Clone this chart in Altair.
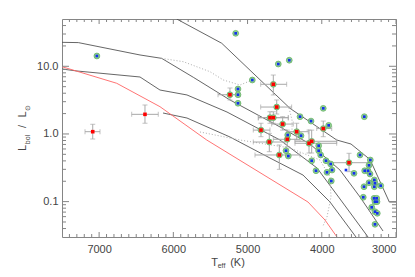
import altair as alt
import pandas as pd

# ---- data ----
# green-ringed blue stars
blue_T = [7030, 5160, 4586, 4438, 4936, 5129, 5129, 5129, 3980, 4293, 4145, 3427, 3907,
          4459, 4280, 4042, 4042, 4015, 4482, 4451, 4136, 3943, 3880, 3862, 4078, 3930,
          3872, 3485, 3346, 3364, 3566, 3422, 3377, 3350, 3431, 3364, 3292, 3283, 3206,
          3292, 3441, 3296, 3260, 3283, 3256, 3327, 3283, 3252, 3283]
blue_L = [14.2, 30.7, 10.8, 12.3, 6.27, 4.62, 3.80, 2.84, 2.39, 1.80, 1.55, 1.80, 1.34,
          0.965, 0.943, 0.671, 0.566, 0.489, 0.566, 0.472, 0.402, 0.402, 0.360, 0.293, 0.286, 0.271,
          0.202, 0.489, 0.412, 0.344, 0.262, 0.286, 0.286, 0.256, 0.166, 0.190, 0.209, 0.187, 0.172,
          0.166, 0.116, 0.112, 0.112, 0.0997, 0.0997, 0.0824, 0.0710, 0.0672, 0.0462]
# lone blue star (no ring)
lone_T = [3674]
lone_L = [0.293]
# green-ringed red stars with error bars
rg_T = [4653, 5237, 4607, 4698, 4653, 4527, 4819, 4338, 3980, 4707, 4465, 4172, 4136, 4572, 3633]
rg_L = [5.42, 3.80, 2.50, 1.74, 1.74, 1.40, 1.14, 1.08, 1.20, 0.760, 0.834, 0.728, 0.779, 0.489, 0.376]
rg_Thot = [4823, 5398, 4823, 4855, 4855, 4675, 4923, 4473, 4068, 4923, 4653, 4361, 4361, 4900, 3912]
rg_Tcool = [4473, 5102, 4406, 4451, 4451, 4384, 4698, 4182, 3866, 4496, 4293, 3799, 3799, 4293, 3360]
rg_Llo = [3.77, 3.18, 1.97, 1.44, 1.44, 1.14, 0.911, 0.814, 0.911, 0.547, 0.648, 0.523, 0.523, 0.300, 0.277]
rg_Lhi = [7.43, 4.78, 3.18, 2.13, 2.13, 1.80, 1.44, 1.44, 1.55, 1.02, 1.14, 1.14, 1.14, 0.687, 0.518]
# plain red stars with error bars
r_T = [7086, 6382]
r_L = [1.08, 1.95]
r_Thot = [7190, 6561]
r_Tcool = [6988, 6203]
r_Llo = [0.842, 1.44]
r_Lhi = [1.39, 2.68]

# isochrones (black)
line1_T = [5955, 5348, 4428, 3799, 3606, 3350, 3090, 3000]
line1_L = [50, 21.9, 2.39, 0.814, 0.710, 0.419, 0.0987, 0.0987]
line2_T = [7500, 7280, 6449, 6157, 5731, 5237, 4563, 4159, 3755, 3485, 3175]
line2_L = [22.6, 22.4, 14.7, 13.1, 6.88, 3.18, 1.27, 0.710, 0.293, 0.117, 0.0368]
line3_T = [7500, 7298, 6449, 6180, 5816, 5277, 4563, 4064, 3714, 3377]
line3_L = [9.12, 8.52, 6.95, 4.46, 3.77, 2.11, 0.814, 0.314, 0.0954, 0.03]
line4_T = [6139, 5816, 5237, 4698, 4253, 3889, 3539]
line4_L = [2.04, 1.72, 0.902, 0.441, 0.247, 0.0987, 0.03]
# red line
red_T = [7500, 6763, 6180, 5550, 4186, 3957, 3795]
red_L = [9.86, 5.61, 2.53, 0.814, 0.0987, 0.0535, 0.03]
# dotted tracks
dot1_T = [6157, 5866, 5506, 5327, 5102, 4936]
dot1_L = [13.1, 11.7, 8.32, 6.27, 5.29, 6.27]
dot2_T = [5641, 5102, 4428, 4024, 3889, 3876, 3930, 3984]
dot2_L = [1.07, 0.814, 0.620, 0.412, 0.231, 0.117, 0.0592, 0.0436]
dot3_T = [4442, 4401, 4401]
dot3_L = [2.42, 1.61, 1.0]

# tick values
xt_major = [3000, 4000, 5000, 6000, 7000]
xt_minor = [t for t in range(3100, 7500, 100) if t % 1000 != 0]
yt_major = [0.1, 1, 10]
yt_minor = [0.04, 0.05, 0.06, 0.07, 0.08, 0.09,
            0.2, 0.3, 0.4, 0.5, 0.6, 0.7, 0.8, 0.9,
            2, 3, 4, 5, 6, 7, 8, 9,
            20, 30, 40]

# ---- chart ----
W, H = 334, 218
FONT = "Liberation Sans"
TXT = "#444444"
FRAME = "#858585"

xs = alt.Scale(domain=[3000, 7500], reverse=True, nice=False, zero=False)
ys = alt.Scale(type="log", domain=[0.03, 50], nice=False)
xaxis = alt.Axis(values=xt_major, format="d", ticks=False, domain=False, grid=False,
                 labelFont=FONT, labelFontSize=11, labelColor=TXT, labelPadding=6, title="")
yaxis = alt.Axis(values=yt_major, format=".1f", ticks=False, domain=False, grid=False,
                 labelFont=FONT, labelFontSize=11, labelColor=TXT, labelPadding=4, title="")


def X(f):
    return alt.X(f, type="quantitative", scale=xs, axis=xaxis)


def Y(f):
    return alt.Y(f, type="quantitative", scale=ys, axis=yaxis)


def ldf(name, T, L):
    return pd.DataFrame({"T": T, "L": L, "line": name, "i": list(range(len(T)))})


black_df = pd.concat([ldf("a", line1_T, line1_L), ldf("b", line2_T, line2_L),
                      ldf("c", line3_T, line3_L), ldf("d", line4_T, line4_L)])
red_df = ldf("r", red_T, red_L)
dot_df = pd.concat([ldf("p", dot1_T, dot1_L), ldf("q", dot2_T, dot2_L), ldf("s", dot3_T, dot3_L)])

blue_df = pd.DataFrame({"T": blue_T, "L": blue_L})
lone_df = pd.DataFrame({"T": lone_T, "L": lone_L})
rg_df = pd.DataFrame({"T": rg_T, "L": rg_L, "Thot": rg_Thot, "Tcool": rg_Tcool,
                      "Llo": rg_Llo, "Lhi": rg_Lhi})
r_df = pd.DataFrame({"T": r_T, "L": r_L, "Thot": r_Thot, "Tcool": r_Tcool,
                     "Llo": r_Llo, "Lhi": r_Lhi})
err_df = pd.concat([rg_df, r_df])
ring_df = pd.concat([blue_df, rg_df[["T", "L"]]])

black = alt.Chart(black_df).mark_line(color="#555555", strokeWidth=0.9, clip=True).encode(
    x=X("T"), y=Y("L"), detail="line:N", order="i:Q")
redl = alt.Chart(red_df).mark_line(color="#ff6464", strokeWidth=0.9, clip=True).encode(
    x=X("T"), y=Y("L"), order="i:Q")
dots = alt.Chart(dot_df).mark_line(color="#acacac", strokeWidth=1, strokeDash=[1, 2], clip=True).encode(
    x=X("T"), y=Y("L"), detail="line:N", order="i:Q")

ebx = alt.Chart(err_df).mark_errorbar(color="#a8a8a8", thickness=1, ticks={"size": 5}).encode(
    x=X("Thot"), x2="Tcool:Q", y=Y("L"))
eby = alt.Chart(err_df).mark_errorbar(color="#a8a8a8", thickness=1, ticks={"size": 5}).encode(
    y=Y("Llo"), y2="Lhi:Q", x=X("T"))

rings = alt.Chart(ring_df).mark_point(shape="circle", filled=True, color="#92d092", stroke="#5fae5f",
                                      strokeWidth=0.7, size=34, opacity=1).encode(x=X("T"), y=Y("L"))
blues = alt.Chart(pd.concat([blue_df, lone_df])).mark_square(color="#1430ee", size=7, opacity=1).encode(
    x=X("T"), y=Y("L"))
reds = alt.Chart(pd.concat([rg_df[["T", "L"]], r_df[["T", "L"]]])).mark_square(
    color="#ff0000", size=13, opacity=1).encode(x=X("T"), y=Y("L"))

# inward ticks on all four sides
def xticks(vals, y0, y1):
    return alt.Chart(pd.DataFrame({"t": vals})).mark_rule(color=FRAME, strokeWidth=1).encode(
        x=X("t"), y=alt.value(y0), y2=alt.value(y1))


def yticks(vals, x0, x1):
    return alt.Chart(pd.DataFrame({"v": vals})).mark_rule(color=FRAME, strokeWidth=1).encode(
        y=Y("v"), x=alt.value(x0), x2=alt.value(x1))


ticks = [xticks(xt_major, H, H - 5), xticks(xt_minor, H, H - 3),
         xticks(xt_major, 0, 5), xticks(xt_minor, 0, 3),
         yticks(yt_major, 0, 7), yticks(yt_minor, 0, 4),
         yticks(yt_major, W, W - 7), yticks(yt_minor, W, W - 4)]

one = alt.Data(values=[{}])


def label(txt, x, y, size, angle=0, align="center"):
    return alt.Chart(one).mark_text(text=txt, font=FONT, fontSize=size, color=TXT, angle=angle,
                                    align=align, baseline="middle").encode(
        x=alt.value(x), y=alt.value(y))


titles = [
    label("T", 152.5, 243.5, 11),
    label("eff", 159.5, 246.5, 7),
    label("(K)", 175.5, 243.5, 11),
    label("L", -39, 129, 11, angle=270),
    label("bol", -34.5, 120.5, 7, angle=270),
    label("/", -39, 107.5, 11, angle=270),
    label("L", -39, 95.5, 11, angle=270),
    label("\u2299", -34.5, 89, 7, angle=270),
]

chart = alt.layer(black, redl, dots, ebx, eby, rings, blues, reds, *ticks, *titles).properties(
    width=W, height=H,
    padding={"left": 54, "top": 11, "right": 11, "bottom": 32},
    autosize=alt.AutoSizeParams(type="none"),
).configure_view(stroke=FRAME, strokeWidth=1)

chart.save("out.html", embed_options={"renderer": "svg", "actions": False})
